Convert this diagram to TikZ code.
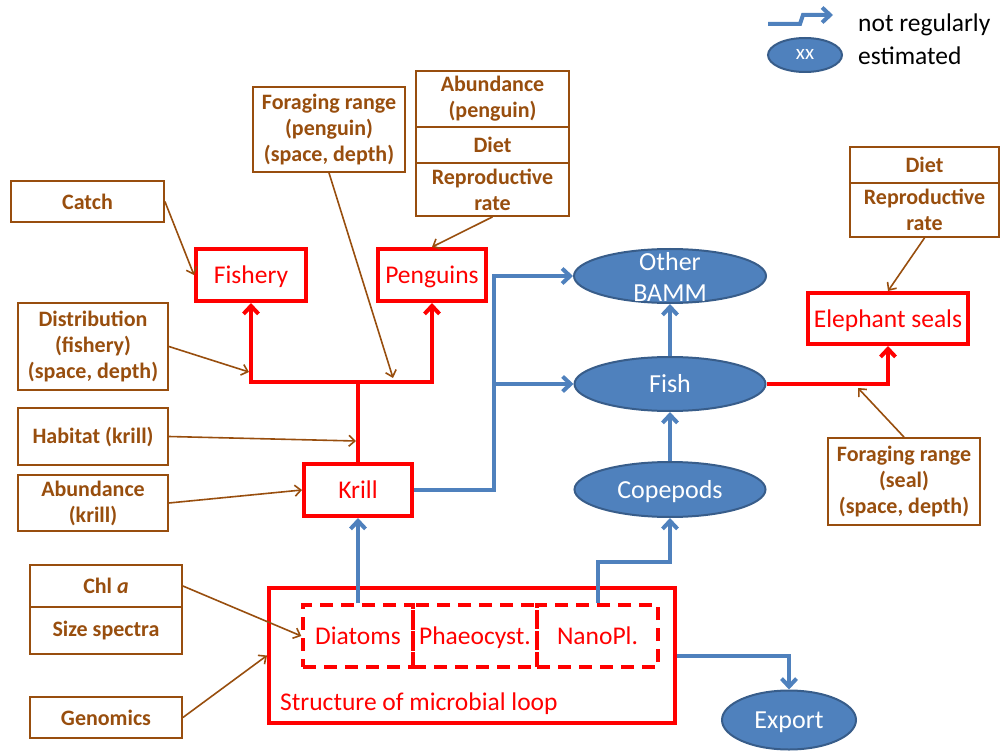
\documentclass[tikz,border=0pt]{standalone}
\usepackage{fontspec}
\setmainfont{Carlito}
\usetikzlibrary{arrows.meta,shapes.geometric}
\definecolor{brn}{RGB}{152,78,14}
\definecolor{bfill}{RGB}{79,129,189}
\definecolor{bedge}{RGB}{56,93,138}
\definecolor{rd}{RGB}{255,0,0}

\begin{document}
\begin{tikzpicture}[x=1pt,y=-1pt,
  brownbox/.style={draw=brn, line width=1.8pt, text=brn,
    font=\bfseries\fontsize{22}{26}\selectfont, align=center, inner sep=0pt},
  redbox/.style={draw=rd, line width=4pt, text=rd,
    font=\fontsize{25.5}{30}\selectfont, inner sep=0pt,
    text height=19pt, text depth=2pt},
  dashbox/.style={draw=rd, line width=3.5pt, dash pattern=on 13pt off 8pt,
    text=rd, font=\fontsize{25.5}{30}\selectfont, inner sep=0pt,
    text height=19pt, text depth=2pt},
  blob/.style={ellipse, fill=bfill, draw=bedge, line width=2pt, text=white,
    font=\fontsize{26}{31}\selectfont, inner sep=0pt,
    text height=19pt, text depth=2pt},
  blobtext/.style={text=white, font=\fontsize{26}{31}\selectfont, align=center, inner sep=0pt},
  redline/.style={draw=rd, line width=4pt},
  redarrow/.style={redline, -{Straight Barb[length=8pt,width=15pt]}},
  blueline/.style={draw=bfill, line width=4pt},
  bluearrow/.style={blueline, -{Straight Barb[length=8pt,width=15pt]}},
  brownarrow/.style={draw=brn, line width=1.6pt, -{Straight Barb[length=6pt,width=11pt]}},
  legendtext/.style={anchor=west, font=\fontsize{25.5}{30}\selectfont, inner sep=0pt},
]
\useasboundingbox (0,0) rectangle (1001,751);

% ---------- legend ----------
\coordinate (lgA) at (768,24);
\coordinate (lgB) at (800,24);
\coordinate (lgC) at (803,15);
\coordinate (lgD) at (833,15);
\draw[bluearrow] (lgA) -- (lgB) -- (lgC) -- (lgD);
\node[blob, minimum width=74pt, minimum height=34pt, font=\fontsize{21}{24}\selectfont,
  text height=11pt, text depth=1pt] (lgxx) at (805,55) {xx};
\node[legendtext] (lgt1) at (858,25) {not regularly};
\node[legendtext] (lgt2) at (858,56) {estimated};

% ---------- measured quantities (brown) ----------
\node[brownbox, minimum width=153pt, minimum height=41pt] (catch) at (87.5,201.5) {Catch};
\node[brownbox, minimum width=152pt, minimum height=85pt] (forpen) at (329,129.5)
  {Foraging range\\(penguin)\\(space, depth)};
\node[brownbox, minimum width=153pt, minimum height=56pt] (abpen) at (492.5,99) {Abundance\\(penguin)};
\node[brownbox, minimum width=153pt, minimum height=36pt] (dietpen) at (492.5,145) {Diet};
\node[brownbox, minimum width=153pt, minimum height=53pt] (reppen) at (492.5,189.5) {Reproductive\\rate};
\node[brownbox, minimum width=150pt, minimum height=87pt] (distfish) at (93,346.5)
  {Distribution\\(fishery)\\(space, depth)};
\node[brownbox, minimum width=150pt, minimum height=57pt] (habkrill) at (93,436.5) {Habitat (krill)};
\node[brownbox, minimum width=150pt, minimum height=56pt] (abkrill) at (93,503) {Abundance\\(krill)};
\node[brownbox, minimum width=152pt, minimum height=42pt] (chla) at (106,586) {Chl \textit{a}};
\node[brownbox, minimum width=152pt, minimum height=47pt] (sizesp) at (106,630.5) {Size spectra};
\node[brownbox, minimum width=152pt, minimum height=41pt] (genom) at (106,717.5) {Genomics};
\node[brownbox, minimum width=149pt, minimum height=36pt] (dietseal) at (924.5,165) {Diet};
\node[brownbox, minimum width=149pt, minimum height=54pt] (repseal) at (924.5,210) {Reproductive\\rate};
\node[brownbox, minimum width=152pt, minimum height=87pt] (forseal) at (904,481.5)
  {Foraging range\\(seal)\\(space, depth)};

% ---------- predators and krill (red) ----------
\node[redbox, minimum width=110pt, minimum height=52pt] (fishery) at (251,275) {Fishery};
\node[redbox, minimum width=108pt, minimum height=52pt] (penguins) at (432,275) {Penguins};
\node[redbox, minimum width=108pt, minimum height=52pt] (krill) at (358,490) {Krill};
\node[redbox, minimum width=160pt, minimum height=51pt] (seals) at (888,318.5) {Elephant seals};

% ---------- microbial loop ----------
\node[redbox, minimum width=406pt, minimum height=135pt] (loop) at (472,655.5) {};
\node[dashbox, minimum width=110pt, minimum height=62pt] (diatoms) at (358,636) {Diatoms};
\node[dashbox, minimum width=124pt, minimum height=62pt] (phaeo) at (475,636) {Phaeocyst.};
\node[dashbox, minimum width=121pt, minimum height=62pt] (nano) at (597.5,636) {NanoPl.};
\node[anchor=west, text=rd, font=\fontsize{25.5}{30}\selectfont, inner sep=0pt] (looplabel) at (280,704)
  {Structure of microbial loop};

% ---------- not regularly estimated groups (blue) ----------
\node[blob, minimum width=192pt, minimum height=54pt] (bamm) at (670,276) {};
\node[blobtext] (bammtxt) at (670,277) {Other\\BAMM};
\node[blob, minimum width=191pt, minimum height=54pt] (fish) at (670,384) {Fish};
\node[blob, minimum width=191pt, minimum height=55pt] (cope) at (670,489.5) {Copepods};
\node[blob, minimum width=134pt, minimum height=59pt] (export) at (789,720) {Export};

% ---------- red flows ----------
\coordinate (kj) at (358,382);
\draw[redline] (krill.north) -- (kj);
\draw[redarrow] (kj) -| (fishery.south);
\draw[redarrow] (kj) -| (penguins.south);
\draw[redarrow] (fish.east) -| (seals.south);

% ---------- blue flows ----------
\coordinate (bj) at (494,384);
\coordinate (nj) at (597.5,562);
\draw[blueline] (krill.east) -| (bj);
\draw[bluearrow] (bj) |- (bamm.west);
\draw[bluearrow] (bj) -- (fish.west);
\draw[bluearrow] (fish.north) -- (bamm.south);
\draw[bluearrow] (cope.north) -- (fish.south);
\draw[bluearrow] (nano.north) -- (nj) -| (cope.south);
\draw[bluearrow] (diatoms.north) -- (krill.south);
\draw[bluearrow] (loop.east) -| (export.north);

% ---------- measurement links (brown) ----------
\coordinate (fpEnd) at (393,378);
\coordinate (dfEnd) at (249,372);
\coordinate (hkEnd) at (356,441);
\coordinate (fsEnd) at (858,388);
\draw[brownarrow] (catch.east) -- (fishery.west);
\draw[brownarrow] (forpen.south) -- (fpEnd);
\draw[brownarrow] (reppen.south) -- (penguins.north);
\draw[brownarrow] (distfish.east) -- (dfEnd);
\draw[brownarrow] (habkrill.east) -- (hkEnd);
\draw[brownarrow] (abkrill.east) -- (krill.west);
\draw[brownarrow] (chla.east) -- (diatoms.west);
\draw[brownarrow] (genom.east) -- (loop.west);
\draw[brownarrow] (repseal.south) -- (seals.north);
\draw[brownarrow] (forseal.north) -- (fsEnd);
\end{tikzpicture}
\end{document}
